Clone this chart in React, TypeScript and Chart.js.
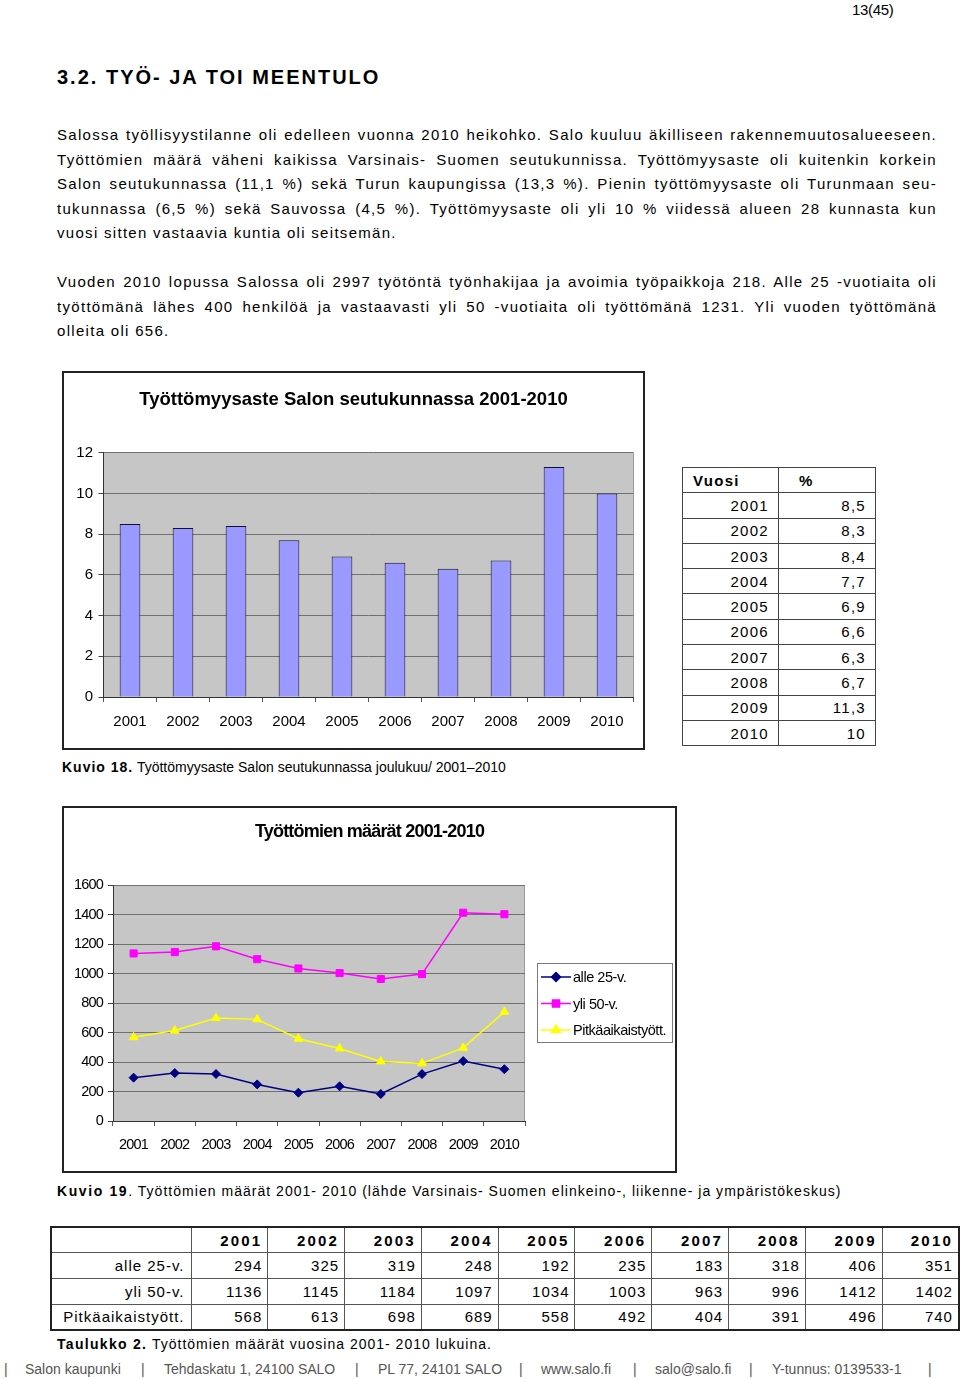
import React, { useEffect, useRef } from "react";
import { Chart, registerables } from "chart.js";
import { drawPoint } from "chart.js/helpers";

Chart.register(...registerables);

// ---------- data ----------
const years = ["2001", "2002", "2003", "2004", "2005", "2006", "2007", "2008", "2009", "2010"];
const rates = [8.5, 8.3, 8.4, 7.7, 6.9, 6.6, 6.3, 6.7, 11.3, 10];
const rateLabels = ["8,5", "8,3", "8,4", "7,7", "6,9", "6,6", "6,3", "6,7", "11,3", "10"];
const alle25 = [294, 325, 319, 248, 192, 235, 183, 318, 406, 351];
const yli50 = [1136, 1145, 1184, 1097, 1034, 1003, 963, 996, 1412, 1402];
const pitka = [568, 613, 698, 689, 558, 492, 404, 391, 496, 740];
const seriesNames = ["alle 25-v.", "yli 50-v.", "Pitkäaikaistyött."];
const chart1Title = "Työttömyysaste Salon seutukunnassa 2001-2010";
const chart2Title = "Työttömien määrät 2001-2010";

const SANS = "'Liberation Sans', Arial, Helvetica, sans-serif";

const plotBg = {
  id: "plotBg",
  beforeDraw(chart: any, _args: any, opts: any) {
    const { ctx, chartArea: a } = chart;
    (ctx as any).letterSpacing = opts.spacing || "0px";
    ctx.save();
    ctx.fillStyle = opts.color || "#C6C6C6";
    ctx.fillRect(a.left, a.top, a.right - a.left, a.bottom - a.top);
    ctx.strokeStyle = "#9a9a9a";
    ctx.lineWidth = 1;
    ctx.beginPath();
    ctx.moveTo(Math.round(a.right) - 0.5, a.top);
    ctx.lineTo(Math.round(a.right) - 0.5, a.bottom);
    ctx.stroke();
    ctx.restore();
  },
};

const boxLegend = {
  id: "boxLegend",
  afterDraw(chart: any, _args: any, o: any) {
    if (!o || !o.w) return;
    const ctx = chart.ctx;
    ctx.save();
    ctx.letterSpacing = o.spacing || "0px";
    ctx.strokeStyle = "#7a7a7a";
    ctx.lineWidth = 1;
    ctx.strokeRect(o.x + 0.5, o.y + 0.5, o.w, o.h);
    chart.data.datasets.forEach((ds: any, i: number) => {
      const y = o.y + o.first + i * o.gap;
      ctx.strokeStyle = ds.borderColor;
      ctx.lineWidth = ds.borderWidth;
      ctx.beginPath();
      ctx.moveTo(o.x + 4, y);
      ctx.lineTo(o.x + 34, y);
      ctx.stroke();
      ctx.fillStyle = ds.pointBackgroundColor;
      ctx.strokeStyle = ds.pointBorderColor;
      drawPoint(ctx, { pointStyle: ds.pointStyle, rotation: 0, radius: ds.pointRadius, borderWidth: 1 }, o.x + 19, y);
      ctx.fillStyle = "#000";
      ctx.font = o.font;
      ctx.textBaseline = "middle";
      ctx.textAlign = "left";
      ctx.fillText(ds.label, o.x + 36, y + 1);
    });
    ctx.restore();
    ctx.letterSpacing = "0px";
  },
};

const spacerAxis = (w: number) => ({
  type: "linear",
  position: "right",
  display: true,
  grid: { display: false, drawTicks: false },
  ticks: { display: false },
  border: { display: false },
  afterFit: (s: any) => { s.width = w; },
});

function RateChart() {
  const ref = useRef<HTMLCanvasElement>(null);
  useEffect(() => {
    const chart = new Chart(ref.current as HTMLCanvasElement, {
      type: "bar",
      data: {
        labels: years,
        datasets: [
          {
            data: rates,
            backgroundColor: "#9999FF",
            borderColor: "#101030",
            borderWidth: 1,
            barPercentage: 0.39,
            categoryPercentage: 1,
          },
        ],
      },
      options: {
        responsive: false,
        animation: false,
        layout: { padding: 0 },
        plugins: {
          legend: { display: false },
          tooltip: { enabled: false },
          title: {
            display: true,
            text: chart1Title,
            color: "#000",
            font: { family: SANS, size: 18.5, weight: "bold", lineHeight: 1.2 },
            padding: { top: 16, bottom: 41.5 },
          },
          plotBg: { color: "#C6C6C6", spacing: "0px" },
        } as any,
        scales: {
          x: {
            grid: { offset: true, drawOnChartArea: false, tickLength: 5, color: "#555" },
            border: { color: "#333", width: 1 },
            ticks: { color: "#000", font: { family: SANS, size: 15 }, padding: 11, maxRotation: 0, autoSkip: false },
            afterFit: (s: any) => { s.height = 51; },
          },
          y: {
            min: 0,
            max: 12,
            ticks: { stepSize: 2, color: "#000", font: { family: SANS, size: 15 }, padding: 5.5 },
            grid: { color: "#707070", tickLength: 5, tickColor: "#444" },
            border: { color: "#333", width: 1 },
            afterFit: (s: any) => { s.width = 39.5; },
          },
          pad: spacerAxis(9.5),
        },
      } as any,
      plugins: [plotBg as any],
    });
    return () => chart.destroy();
  }, []);
  return (
    <canvas
      ref={ref}
      width={579}
      height={375}
      style={{ position: "absolute", left: 64, top: 373, width: 579, height: 375 }}
    />
  );
}

function CountChart() {
  const ref = useRef<HTMLCanvasElement>(null);
  useEffect(() => {
    const mk = (label: string, data: number[], color: string, style: string, r: number) => ({
      label,
      data,
      borderColor: color,
      borderWidth: 1.5,
      pointStyle: style,
      pointRadius: r,
      pointBackgroundColor: color,
      pointBorderColor: color,
      pointBorderWidth: 1,
      tension: 0,
      fill: false,
    });
    const chart = new Chart(ref.current as HTMLCanvasElement, {
      type: "line",
      data: {
        labels: years,
        datasets: [
          mk(seriesNames[0], alle25, "#000080", "rectRot", 4.5),
          mk(seriesNames[1], yli50, "#FF00FF", "rect", 5),
          mk(seriesNames[2], pitka, "#FFFF00", "triangle", 5),
        ],
      },
      options: {
        responsive: false,
        animation: false,
        layout: { padding: 0 },
        plugins: {
          legend: { display: false },
          tooltip: { enabled: false },
          title: {
            display: true,
            text: chart2Title,
            color: "#000",
            font: { family: SANS, size: 18, weight: "bold", lineHeight: 1.2 },
            padding: { top: 13, bottom: 42.4 },
          },
          plotBg: { color: "#C6C6C6", spacing: "-0.8px" },
          boxLegend: {
            x: 473,
            y: 155,
            w: 135,
            h: 79,
            first: 14,
            gap: 26.5,
            font: `14.5px ${SANS}`,
            spacing: "-0.45px",
          },
        } as any,
        scales: {
          x: {
            offset: true,
            grid: { offset: true, drawOnChartArea: false, tickLength: 5, color: "#555" },
            border: { color: "#333", width: 1 },
            ticks: { color: "#000", font: { family: SANS, size: 14.5 }, padding: 10, maxRotation: 0, autoSkip: false },
            afterFit: (s: any) => { s.height = 50; },
          },
          y: {
            min: 0,
            max: 1600,
            ticks: {
              stepSize: 200,
              color: "#000",
              font: { family: SANS, size: 14.5 },
              padding: 5,
              callback: (v: any) => String(v),
            },
            grid: { color: "#707070", tickLength: 5, tickColor: "#444" },
            border: { color: "#333", width: 1 },
            afterFit: (s: any) => { s.width = 49; },
          },
          pad: spacerAxis(150),
        },
      } as any,
      plugins: [plotBg as any, boxLegend as any],
    });
    return () => chart.destroy();
  }, []);
  return (
    <canvas
      ref={ref}
      width={611}
      height={363}
      style={{ position: "absolute", left: 64, top: 808, width: 611, height: 363 }}
    />
  );
}

const abs = (x: number, y: number, extra: any = {}) => ({
  position: "absolute" as const,
  left: x,
  top: y,
  whiteSpace: "nowrap" as const,
  ...extra,
});

const p1 = [
  "Salossa työllisyystilanne oli edelleen vuonna 2010 heikohko. Salo kuuluu äkilliseen rakennemuutosalueeseen.",
  "Työttömien määrä väheni kaikissa Varsinais- Suomen seutukunnissa. Työttömyysaste oli kuitenkin korkein",
  "Salon seutukunnassa (11,1 %) sekä Turun kaupungissa (13,3 %). Pienin työttömyysaste oli Turunmaan seu-",
  "tukunnassa (6,5 %) sekä Sauvossa (4,5 %). Työttömyysaste oli yli 10 % viidessä alueen 28 kunnasta kun",
  "vuosi sitten vastaavia kuntia oli seitsemän.",
];
const p2 = [
  "Vuoden 2010 lopussa Salossa oli 2997 työtöntä työnhakijaa ja avoimia työpaikkoja 218. Alle 25 -vuotiaita oli",
  "työttömänä lähes 400 henkilöä ja vastaavasti yli 50 -vuotiaita oli työttömänä 1231. Yli vuoden työttömänä",
  "olleita oli 656.",
];

function Para({ lines, top }: { lines: string[]; top: number }) {
  return (
    <>
      {lines.map((l, i) => {
        const last = i === lines.length - 1;
        return (
          <div
            key={i}
            style={{
              position: "absolute",
              left: 57,
              top: top + i * 24.5,
              width: 880,
              height: 24,
              lineHeight: "24px",
              fontSize: 15,
              letterSpacing: 1.3,
              textAlign: last ? "left" : "justify",
              textAlignLast: last ? "left" : "justify",
              whiteSpace: "normal",
            } as any}
          >
            {l}
          </div>
        );
      })}
    </>
  );
}

const footer: [number, string][] = [
  [4, "|"],
  [25, "Salon kaupunki"],
  [141, "|"],
  [164, "Tehdaskatu 1, 24100 SALO"],
  [355, "|"],
  [378, "PL 77, 24101 SALO"],
  [519, "|"],
  [541, "www.salo.fi"],
  [633, "|"],
  [655, "salo@salo.fi"],
  [749, "|"],
  [772, "Y-tunnus: 0139533-1"],
  [928, "|"],
];

export default function App() {
  const cell1 = { borderBottom: "1.5px solid #444", height: 25.3, padding: 0, boxSizing: "border-box" as const };
  const t2b = "1px solid #555";
  return (
    <div
      style={{
        position: "absolute",
        left: 0,
        top: 0,
        width: 960,
        height: 1379,
        background: "#fff",
        color: "#000",
        fontFamily: SANS,
        overflow: "hidden",
      }}
    >
      <div style={abs(852, 1, { fontSize: 15, letterSpacing: -0.3, lineHeight: "18px" })}>13(45)</div>
      <div style={abs(57, 65, { fontSize: 20, fontWeight: "bold", letterSpacing: 2, lineHeight: "24px" })}>
        3.2. TYÖ- JA TOI MEENTULO
      </div>

      <Para lines={p1} top={123} />
      <Para lines={p2} top={270} />

      {/* chart 1 */}
      <div
        style={{
          position: "absolute",
          left: 62,
          top: 371,
          width: 583,
          height: 379,
          border: "2px solid #222",
          boxSizing: "border-box",
        }}
      />
      <RateChart />

      {/* table 1 */}
      <table
        style={{
          position: "absolute",
          left: 682,
          top: 467,
          width: 193,
          borderCollapse: "collapse",
          tableLayout: "fixed",
          border: "1.5px solid #444",
          fontSize: 15,
          letterSpacing: 1.3,
        }}
      >
        <colgroup>
          <col style={{ width: 96 }} />
          <col style={{ width: 97 }} />
        </colgroup>
        <tbody>
          <tr style={{ height: 25.3 }}>
            <td style={{ ...cell1, borderRight: "1.5px solid #444", fontWeight: "bold", paddingLeft: 10 }}>Vuosi</td>
            <td style={{ ...cell1, fontWeight: "bold", paddingLeft: 20 }}>%</td>
          </tr>
          {years.map((y, i) => (
            <tr key={y} style={{ height: 25.3 }}>
              <td style={{ ...cell1, borderRight: "1.5px solid #444", textAlign: "right", paddingRight: 9 }}>{y}</td>
              <td style={{ ...cell1, textAlign: "right", paddingRight: 9 }}>{rateLabels[i]}</td>
            </tr>
          ))}
        </tbody>
      </table>

      <div style={abs(62, 758, { fontSize: 14, lineHeight: "18px" })}>
        <span style={{ fontWeight: "bold", letterSpacing: 1 }}>Kuvio 18.</span>
        <span> Työttömyysaste Salon seutukunnassa joulukuu/ 2001–2010</span>
      </div>

      {/* chart 2 */}
      <div
        style={{
          position: "absolute",
          left: 62,
          top: 806,
          width: 615,
          height: 367,
          border: "2px solid #222",
          boxSizing: "border-box",
        }}
      />
      <CountChart />

      <div style={abs(57, 1182, { fontSize: 14, lineHeight: "18px", letterSpacing: 1.03 })}>
        <span style={{ fontWeight: "bold", letterSpacing: 1.6 }}>Kuvio 19</span>
        <span>. Työttömien määrät 2001- 2010 (lähde Varsinais- Suomen elinkeino-, liikenne- ja ympäristökeskus)</span>
      </div>

      {/* table 2 */}
      <table
        style={{
          position: "absolute",
          left: 50,
          top: 1226,
          width: 908,
          borderCollapse: "collapse",
          tableLayout: "fixed",
          border: "2px solid #222",
          fontSize: 15,
          letterSpacing: 1,
        }}
      >
        <colgroup>
          <col style={{ width: 140 }} />
          {years.map((y) => (
            <col key={y} style={{ width: 76.8 }} />
          ))}
        </colgroup>
        <tbody>
          <tr style={{ height: 25.75 }}>
            <td style={{ border: t2b, padding: 0 }}></td>
            {years.map((y) => (
              <td
                key={y}
                style={{ border: t2b, padding: "0 5px 0 0", textAlign: "right", fontWeight: "bold", letterSpacing: 2.2 }}
              >
                {y}
              </td>
            ))}
          </tr>
          {[alle25, yli50, pitka].map((row, r) => (
            <tr key={r} style={{ height: 25.75 }}>
              <td style={{ border: t2b, padding: "0 6px 0 0", textAlign: "right" }}>{seriesNames[r]}</td>
              {row.map((v, i) => (
                <td key={i} style={{ border: t2b, padding: "0 5px 0 0", textAlign: "right" }}>
                  {v}
                </td>
              ))}
            </tr>
          ))}
        </tbody>
      </table>

      <div style={abs(57, 1335, { fontSize: 14, lineHeight: "18px", letterSpacing: 1 })}>
        <span style={{ fontWeight: "bold", letterSpacing: 1.3 }}>Taulukko 2.</span>
        <span> Työttömien määrät vuosina 2001- 2010 lukuina.</span>
      </div>

      {footer.map(([x, t], i) => (
        <div key={i} style={abs(x, 1361, { fontSize: 14, lineHeight: "16px", color: "#555" })}>
          {t}
        </div>
      ))}
    </div>
  );
}
